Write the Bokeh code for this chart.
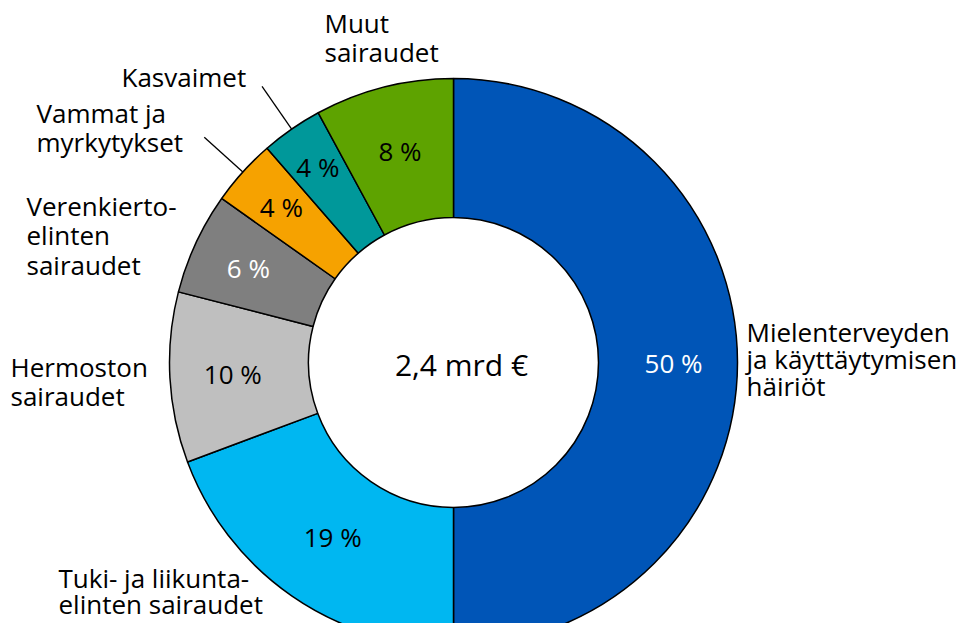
import math
from bokeh.plotting import figure
from bokeh.models import Range1d, ColumnDataSource
from bokeh.core.properties import value
from bokeh.embed import file_html
from bokeh.resources import INLINE

# ---- data ----
categories = [
    "Mielenterveyden\nja käyttäytymisen\nhäiriöt",
    "Tuki- ja liikunta-\nelinten sairaudet",
    "Hermoston\nsairaudet",
    "Verenkierto-\nelinten\nsairaudet",
    "Vammat ja\nmyrkytykset",
    "Kasvaimet",
    "Muut\nsairaudet",
]
shares = [50.0, 19.3, 9.7, 5.8, 3.8, 3.5, 7.9]
pct_labels = ["50 %", "19 %", "10 %", "6 %", "4 %", "4 %", "8 %"]
center_label = "2,4 mrd €"

# ---- style / layout ----
colors = ["#0055B7", "#00B7F1", "#BFBFBF", "#7F7F7F", "#F6A200", "#00989A", "#5EA300"]
pct_colors = ["white", "black", "black", "white", "black", "black", "black"]
pct_radius = [220, 212, 221, 226, 232, 238, 218]
leader = [False, False, False, False, True, True, False]
# label anchors in reference pixel coords (left x, first baseline y)
label_anchor = [(746, 342), (58, 588), (10, 377), (26, 216), (36, 123), (121, 87), (324, 33)]
line_step = [27, 26, 29, 29.5, 29, 29, 29]
BASE_FIX = 11  # renderer draws alphabetic baseline this much lower

W, H = 959, 623
FONT = "Open Sans"
def Y(y):  # reference pixel y -> data y
    return 639 - y

cx, cy = 453, Y(362)
r_out, r_in = 284, 145

p = figure(width=W, height=H, output_backend="svg", toolbar_location=None,
           x_range=Range1d(0, W), y_range=Range1d(639 - H, 639),
           x_axis_location=None, y_axis_location=None, min_border=0)
p.grid.visible = False
p.outline_line_color = None
p.background_fill_color = "white"

total = sum(shares)
starts, ends, mids = [], [], []
cum = 0.0
for s in shares:
    a0 = math.pi / 2 - 2 * math.pi * cum / total
    cum += s
    a1 = math.pi / 2 - 2 * math.pi * cum / total
    starts.append(a0); ends.append(a1); mids.append((a0 + a1) / 2)

src = ColumnDataSource(dict(start=starts, end=ends, color=colors))
p.annular_wedge(x=cx, y=cy, inner_radius=r_in, outer_radius=r_out,
                start_angle="start", end_angle="end", direction="clock",
                fill_color="color", line_color="black", line_width=1.5, source=src)

# percentage labels
px = [cx + r * math.cos(m) for r, m in zip(pct_radius, mids)]
py = [cy + r * math.sin(m) for r, m in zip(pct_radius, mids)]
p.text(x=px, y=py, text=pct_labels, text_color=pct_colors, text_font=value(FONT),
       text_font_size="26px", text_align="center", text_baseline="middle")

# leader lines
for i, use in enumerate(leader):
    if use:
        m = mids[i]
        p.line([cx + r_out * math.cos(m), cx + 336 * math.cos(m)],
               [cy + r_out * math.sin(m), cy + 336 * math.sin(m)],
               line_color="black", line_width=1.3)

# category labels
lx, ly, lt = [], [], []
for cat, (ax, ay), step in zip(categories, label_anchor, line_step):
    for j, line in enumerate(cat.split("\n")):
        lx.append(ax); ly.append(Y(ay + j * step - BASE_FIX)); lt.append(line)
p.text(x=lx, y=ly, text=lt, text_color="black", text_font=value(FONT),
       text_font_size="26px", text_align="left", text_baseline="alphabetic")

# center label
p.text(x=[461], y=[Y(375 - BASE_FIX)], text=[center_label], text_color="black",
       text_font=value(FONT), text_font_size="30px", text_align="center",
       text_baseline="alphabetic")

open("out.html", "w").write(file_html(p, INLINE))
